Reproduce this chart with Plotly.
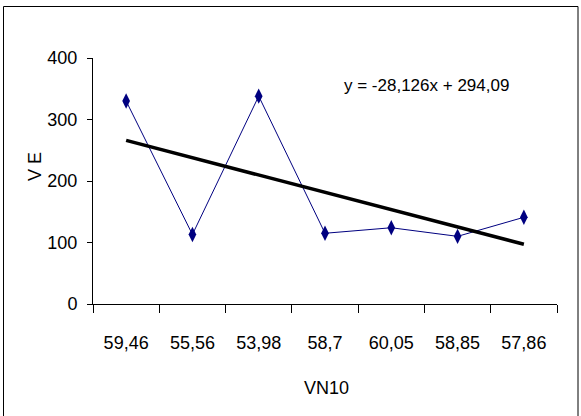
import plotly.graph_objects as go

categories = ["59,46", "55,56", "53,98", "58,7", "60,05", "58,85", "57,86"]
ve_values = [330, 113, 338, 115, 124, 110, 141]
trend_slope = -28.126
trend_intercept = 294.09
y_ticks = [0, 100, 200, 300, 400]

trend_values = [trend_slope * (i + 1) + trend_intercept for i in range(len(categories))]

FONT = "Liberation Sans, Arial, sans-serif"

fig = go.Figure()
fig.add_trace(go.Scatter(
    x=categories, y=ve_values, mode="lines+markers",
    line=dict(color="#000080", width=1),
    marker=dict(symbol="diamond-tall", size=11, color="#000080"),
    showlegend=False, cliponaxis=False,
))
fig.add_trace(go.Scatter(
    x=categories, y=trend_values, mode="lines",
    line=dict(color="#000000", width=3.5),
    showlegend=False, cliponaxis=False,
))

W, H = 581, 416
L, R, T, B = 93, 24, 58, 112
pw, ph = W - L - R, H - T - B

def px_to_paper_x(p):
    return (p - L) / pw

def px_to_paper_y(p):
    return (H - B - p) / ph

fig.update_layout(
    width=W, height=H,
    margin=dict(l=L, r=R, t=T, b=B, pad=0),
    paper_bgcolor="white", plot_bgcolor="white",
    font=dict(family=FONT, size=18, color="black"),
    xaxis=dict(
        type="category", range=[-0.5, 6.5], tickson="boundaries",
        showline=True, linecolor="black", linewidth=1,
        ticks="outside", ticklen=8, tickcolor="black", tickwidth=1,
        showgrid=False, zeroline=False, ticklabelstandoff=22,
        tickangle=0, automargin=False,
        tickfont=dict(family=FONT, size=18),
    ),
    yaxis=dict(
        range=[0, 400], tickvals=y_ticks,
        showline=True, linecolor="black", linewidth=1,
        ticks="outside", ticklen=5, tickcolor="black", tickwidth=1,
        showgrid=False, zeroline=False, ticklabelstandoff=6,
        automargin=False,
        tickfont=dict(family=FONT, size=18),
    ),
    annotations=[
        dict(text="y = -28,126x + 294,09", x=px_to_paper_x(426), y=px_to_paper_y(85),
             xref="paper", yref="paper", showarrow=False,
             xanchor="center", yanchor="middle",
             font=dict(family=FONT, size=17, color="black")),
        dict(text="VN10", x=px_to_paper_x(326), y=px_to_paper_y(388),
             xref="paper", yref="paper", showarrow=False,
             xanchor="center", yanchor="middle",
             font=dict(family=FONT, size=18, color="black")),
        dict(text="V E", x=px_to_paper_x(35), y=px_to_paper_y(167),
             xref="paper", yref="paper", showarrow=False, textangle=-90,
             xanchor="center", yanchor="middle",
             font=dict(family=FONT, size=18, color="black")),
    ],
    shapes=[
        dict(type="rect", xref="paper", yref="paper",
             x0=px_to_paper_x(3.5), x1=px_to_paper_x(578), y0=px_to_paper_y(430), y1=px_to_paper_y(6.5),
             line=dict(color="black", width=1), fillcolor="rgba(0,0,0,0)", layer="below"),
    ],
)

fig.write_html("out.html", config={"displayModeBar": False},
               post_script="document.body.style.margin='0';document.body.style.overflow='hidden';")
